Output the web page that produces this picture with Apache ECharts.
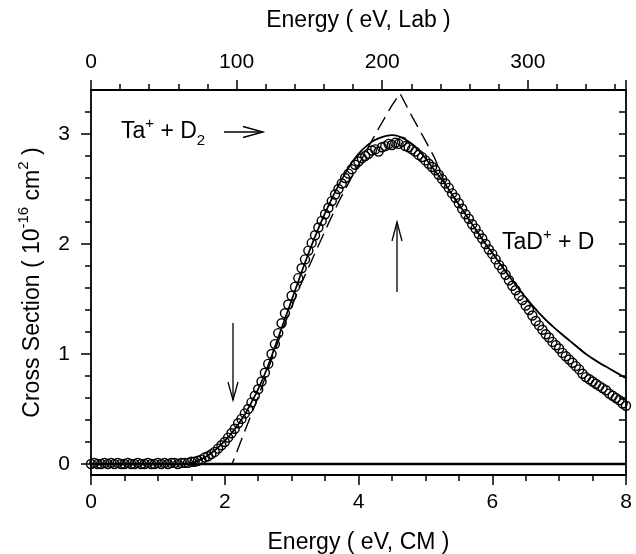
<!DOCTYPE html>
<html>
<head>
<meta charset="utf-8">
<script src="https://cdn.jsdelivr.net/npm/echarts@6/dist/echarts.min.js"></script>
<style>html,body{margin:0;padding:0;background:#fff;}#c{width:636px;height:554px;}</style>
</head>
<body>
<div id="c"></div>
<script>
// Measured cross section (circles): energy (eV, CM) and value (1e-16 cm^2)
var dataE = [0.00,0.05,0.10,0.15,0.20,0.25,0.30,0.35,0.40,0.45,0.50,0.55,0.60,0.65,0.70,0.75,0.80,0.85,0.90,0.95,
1.00,1.05,1.10,1.15,1.20,1.25,1.30,1.35,1.40,1.45,1.50,1.55,1.60,1.65,1.70,1.75,1.80,1.85,1.90,1.95,
2.00,2.05,2.10,2.15,2.20,2.25,2.30,2.35,2.40,2.45,2.50,2.55,2.60,2.65,2.70,2.75,2.80,2.85,2.90,2.95,
3.00,3.05,3.10,3.15,3.20,3.25,3.30,3.35,3.40,3.45,3.50,3.55,3.60,3.65,3.70,3.75,3.80,3.85,3.90,3.95,
4.00,4.05,4.10,4.15,4.20,4.25,4.30,4.35,4.40,4.45,4.50,4.55,4.60,4.65,4.70,4.75,4.80,4.85,4.90,4.95,
5.00,5.05,5.10,5.15,5.20,5.25,5.30,5.35,5.40,5.45,5.50,5.55,5.60,5.65,5.70,5.75,5.80,5.85,5.90,5.95,
6.00,6.05,6.10,6.15,6.20,6.25,6.30,6.35,6.40,6.45,6.50,6.55,6.60,6.65,6.70,6.75,6.80,6.85,6.90,6.95,
7.00,7.05,7.10,7.15,7.20,7.25,7.30,7.35,7.40,7.45,7.50,7.55,7.60,7.65,7.70,7.75,7.80,7.85,7.90,7.95,8.00];
var dataV = [0.00,0.01,0.00,0.00,0.01,0.00,0.01,0.00,0.01,0.00,0.00,0.01,0.00,0.00,0.01,0.00,0.00,0.01,0.00,0.00,
0.01,0.00,0.01,0.00,0.01,0.01,0.00,0.01,0.01,0.01,0.02,0.02,0.03,0.04,0.06,0.07,0.09,0.11,0.14,0.17,
0.20,0.24,0.28,0.32,0.37,0.41,0.46,0.50,0.56,0.62,0.68,0.75,0.83,0.91,1.00,1.09,1.19,1.28,1.37,1.45,
1.53,1.61,1.69,1.78,1.86,1.94,2.01,2.08,2.15,2.21,2.27,2.33,2.39,2.45,2.50,2.55,2.60,2.64,2.68,2.72,
2.75,2.78,2.80,2.82,2.85,2.86,2.84,2.88,2.89,2.91,2.90,2.92,2.91,2.93,2.89,2.88,2.86,2.84,2.81,2.79,
2.76,2.73,2.70,2.67,2.63,2.59,2.55,2.51,2.46,2.42,2.37,2.32,2.27,2.23,2.18,2.14,2.09,2.05,2.00,1.95,
1.91,1.86,1.81,1.77,1.72,1.67,1.62,1.58,1.53,1.49,1.44,1.40,1.35,1.30,1.26,1.22,1.18,1.15,1.11,1.08,
1.05,1.01,0.98,0.95,0.92,0.89,0.86,0.82,0.79,0.77,0.75,0.73,0.71,0.69,0.67,0.64,0.62,0.60,0.58,0.55,0.53];

// Fitted model (solid line)
var fitE = [0.0,1.4,1.5,1.6,1.7,1.8,1.9,2.0,2.1,2.2,2.3,2.4,2.5,2.6,2.7,2.8,2.9,3.0,3.1,3.2,3.3,3.4,3.5,3.6,3.7,3.8,3.9,
4.0,4.1,4.2,4.3,4.4,4.5,4.6,4.7,4.8,4.9,5.0,5.1,5.2,5.3,5.4,5.5,5.6,5.7,5.8,5.9,6.0,6.2,6.4,6.6,6.8,7.0,7.2,7.4,7.6,7.8,8.0];
var fitV = [0.00,0.00,0.01,0.03,0.06,0.10,0.15,0.21,0.28,0.36,0.45,0.56,0.68,0.82,0.98,1.15,1.32,1.49,1.66,1.83,1.99,2.14,2.28,2.41,2.53,2.64,2.74,
2.82,2.88,2.93,2.96,2.98,2.99,2.98,2.95,2.91,2.85,2.78,2.70,2.62,2.54,2.45,2.36,2.27,2.18,2.09,2.00,1.92,1.75,1.59,1.44,1.31,1.20,1.10,1.00,0.92,0.85,0.78];

// Unconvoluted model (dashed line)
var modelE = [0.00,2.11,2.30,2.50,2.70,2.90,3.10,3.30,3.50,3.70,3.90,4.10,4.30,4.50,4.62,4.80,5.00,5.14,5.30,5.50,5.70,5.90,6.00,6.20,6.40,6.60,6.80,7.00,7.20,7.40,7.60,7.80,8.00];
var modelV = [0.00,0.00,0.30,0.61,0.95,1.28,1.58,1.85,2.12,2.38,2.61,2.83,3.05,3.26,3.37,3.16,2.94,2.78,2.54,2.36,2.18,2.00,1.92,1.75,1.59,1.44,1.31,1.20,1.10,1.00,0.92,0.85,0.78];

var zeroE = [0, 8];
var zeroV = [0, 0];

var yMajorTicks = [0, 1, 2, 3];
var yMinorTicks = [0.2,0.4,0.6,0.8,1.2,1.4,1.6,1.8,2.2,2.4,2.6,2.8,3.2];
var yRightTicks = [0,0.2,0.4,0.6,0.8,1,1.2,1.4,1.6,1.8,2,2.2,2.4,2.6,2.8,3,3.2];

function pairs(xs, ys) { return xs.map(function (x, i) { return [x, ys[i]]; }); }

var FONT = '"Liberation Sans", Arial, Helvetica, sans-serif';
var chart = echarts.init(document.getElementById('c'), null, {renderer: 'canvas'});
var lineBlack = {color: '#000', width: 1.8};
var tickBlack = {color: '#000', width: 1.5};

chart.setOption({
  backgroundColor: '#fff',
  animation: false,
  textStyle: {fontFamily: FONT, color: '#000'},
  grid: {left: 91, right: 10, top: 90, bottom: 79, containLabel: false, outerBoundsMode: 'none'},
  xAxis: [{
    type: 'value', position: 'bottom', min: 0, max: 8, interval: 2,
    axisLine: {show: true, onZero: false, lineStyle: lineBlack},
    axisTick: {show: true, inside: false, length: 10, lineStyle: tickBlack},
    minorTick: {show: true, splitNumber: 4, length: 6, lineStyle: tickBlack},
    axisLabel: {fontSize: 21, color: '#000', margin: 17, fontFamily: FONT},
    splitLine: {show: false},
    name: 'Energy ( eV, CM )', nameLocation: 'middle', nameGap: 56,
    nameTextStyle: {fontSize: 23, color: '#000', fontFamily: FONT}
  }, {
    type: 'value', position: 'top', min: 0, max: 367.4, interval: 100,
    axisLine: {show: true, onZero: false, lineStyle: lineBlack},
    axisTick: {show: true, inside: false, length: 10, lineStyle: tickBlack},
    minorTick: {show: true, splitNumber: 5, length: 6, lineStyle: tickBlack},
    axisLabel: {fontSize: 21, color: '#000', margin: 17, showMaxLabel: false, fontFamily: FONT},
    splitLine: {show: false},
    name: 'Energy ( eV, Lab )', nameLocation: 'middle', nameGap: 58,
    nameTextStyle: {fontSize: 23, color: '#000', fontFamily: FONT}
  }],
  yAxis: [{
    type: 'value', position: 'left', min: -0.1, max: 3.4,
    axisLine: {show: true, onZero: false, lineStyle: lineBlack},
    axisTick: {show: true, inside: false, length: 10, lineStyle: tickBlack, customValues: yMajorTicks},
    axisLabel: {fontSize: 21, color: '#000', margin: 21, fontFamily: FONT, customValues: yMajorTicks},
    splitLine: {show: false},
    name: '{n|Cross Section ( 10}{s|-16}{n| cm}{s|2}{n| )}',
    nameLocation: 'middle', nameGap: 41, nameRotate: 90,
    nameTextStyle: {
      fontSize: 23, color: '#000', fontFamily: FONT,
      rich: {
        n: {fontSize: 23, lineHeight: 34, fontFamily: FONT, color: '#000'},
        s: {fontSize: 15, lineHeight: 15, verticalAlign: 'top', fontFamily: FONT, color: '#000'}
      }
    }
  }, {
    type: 'value', position: 'left', min: -0.1, max: 3.4,
    axisLine: {show: false},
    axisTick: {show: true, inside: false, length: 6, lineStyle: tickBlack, customValues: yMinorTicks},
    axisLabel: {show: false},
    splitLine: {show: false}
  }, {
    type: 'value', position: 'right', min: -0.1, max: 3.4,
    axisLine: {show: true, onZero: false, lineStyle: lineBlack},
    axisTick: {show: true, inside: true, length: 7, lineStyle: tickBlack, customValues: yRightTicks},
    axisLabel: {show: false},
    splitLine: {show: false}
  }],
  series: [{
    type: 'line', name: 'zero', data: pairs(zeroE, zeroV), xAxisIndex: 0, yAxisIndex: 0,
    symbol: 'none', lineStyle: {color: '#000', width: 2.4}, z: 2, silent: true
  }, {
    type: 'line', name: 'model', data: pairs(modelE, modelV), xAxisIndex: 0, yAxisIndex: 0,
    symbol: 'none', lineStyle: {color: '#000', width: 1.4, type: [15, 7]}, z: 3, silent: true
  }, {
    type: 'line', name: 'fit', data: pairs(fitE, fitV), xAxisIndex: 0, yAxisIndex: 0,
    symbol: 'none', smooth: 0.3, lineStyle: {color: '#000', width: 1.7}, z: 4, silent: true
  }, {
    type: 'scatter', name: 'data', data: pairs(dataE, dataV), xAxisIndex: 0, yAxisIndex: 0,
    symbol: 'circle', symbolSize: 9,
    itemStyle: {color: 'rgba(0,0,0,0)', borderColor: '#000', borderWidth: 1.4, opacity: 1},
    z: 5, silent: true
  }],
  graphic: [
    {type: 'text', x: 121, y: 132, z: 10, style: {
      text: '{n|Ta}{s|+}{n| + D}{b|2}', align: 'left', verticalAlign: 'middle',
      fontFamily: FONT, fontSize: 23, fill: '#000',
      rich: {
        n: {fontSize: 23, lineHeight: 32, fontFamily: FONT, fill: '#000'},
        s: {fontSize: 15, lineHeight: 15, verticalAlign: 'top', fontFamily: FONT, fill: '#000'},
        b: {fontSize: 15, lineHeight: 15, verticalAlign: 'bottom', fontFamily: FONT, fill: '#000'}
      }}},
    {type: 'line', z: 10, shape: {x1: 224, y1: 132, x2: 263, y2: 132}, style: {stroke: '#000', lineWidth: 1.3}},
    {type: 'polyline', z: 10, shape: {points: [[243, 126.5], [263, 132], [243, 137.5]]}, style: {stroke: '#000', lineWidth: 1.3, fill: null}},
    {type: 'line', z: 10, shape: {x1: 233, y1: 323, x2: 233, y2: 400}, style: {stroke: '#000', lineWidth: 1.3}},
    {type: 'polyline', z: 10, shape: {points: [[228, 382], [233, 400], [238, 382]]}, style: {stroke: '#000', lineWidth: 1.3, fill: null}},
    {type: 'line', z: 10, shape: {x1: 397, y1: 292, x2: 397, y2: 222}, style: {stroke: '#000', lineWidth: 1.3}},
    {type: 'polyline', z: 10, shape: {points: [[392, 241], [397, 222], [402, 241]]}, style: {stroke: '#000', lineWidth: 1.3, fill: null}},
    {type: 'text', x: 502, y: 243, z: 10, style: {
      text: '{n|TaD}{s|+}{n| + D}', align: 'left', verticalAlign: 'middle',
      fontFamily: FONT, fontSize: 23, fill: '#000',
      rich: {
        n: {fontSize: 23, lineHeight: 32, fontFamily: FONT, fill: '#000'},
        s: {fontSize: 15, lineHeight: 15, verticalAlign: 'top', fontFamily: FONT, fill: '#000'}
      }}}
  ]
});
</script>
</body>
</html>
